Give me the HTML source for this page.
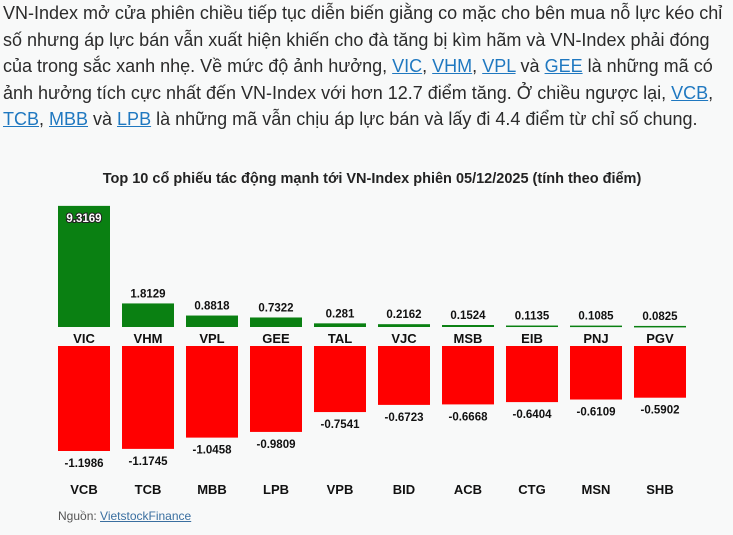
<!DOCTYPE html>
<html><head><meta charset="utf-8">
<style>
body{margin:0;width:733px;height:535px;background:#f8f9f9;overflow:hidden;font-family:"Liberation Sans",Arial,sans-serif;}
#para{position:absolute;left:3px;top:0;font-size:18px;line-height:26.5px;color:#2b2b2b;white-space:nowrap;}
#para a{color:#1f78c0;text-decoration:underline;}
#chart{position:absolute;left:0;top:0;}
#src{position:absolute;left:58px;top:509px;font-size:12px;color:#555;}
#src a{color:#3a6fa0;text-decoration:underline;}
</style></head><body>
<div id="para">VN-Index mở cửa phiên chiều tiếp tục diễn biến giằng co mặc cho bên mua nỗ lực kéo chỉ<br>số nhưng áp lực bán vẫn xuất hiện khiến cho đà tăng bị kìm hãm và VN-Index phải đóng<br>của trong sắc xanh nhẹ. Về mức độ ảnh hưởng, <a>VIC</a>, <a>VHM</a>, <a>VPL</a> và <a>GEE</a> là những mã có<br>ảnh hưởng tích cực nhất đến VN-Index với hơn 12.7 điểm tăng. Ở chiều ngược lại, <a>VCB</a>,<br><a>TCB</a>, <a>MBB</a> và <a>LPB</a> là những mã vẫn chịu áp lực bán và lấy đi 4.4 điểm từ chỉ số chung.</div>
<svg id="chart" width="733" height="535">
<text x="372" y="183" text-anchor="middle" font-size="14.5" font-weight="bold" fill="#222">Top 10 cổ phiếu tác động mạnh tới VN-Index phiên 05/12/2025 (tính theo điểm)</text>
<g id="marks"></g>
</svg>
<div id="src">Nguồn: <a>VietstockFinance</a></div>
<script>
const posTickers=["VIC","VHM","VPL","GEE","TAL","VJC","MSB","EIB","PNJ","PGV"];
const posValues=[9.3169,1.8129,0.8818,0.7322,0.281,0.2162,0.1524,0.1135,0.1085,0.0825];
const negTickers=["VCB","TCB","MBB","LPB","VPB","BID","ACB","CTG","MSN","SHB"];
const negValues=[-1.1986,-1.1745,-1.0458,-0.9809,-0.7541,-0.6723,-0.6668,-0.6404,-0.6109,-0.5902];
const NS="http://www.w3.org/2000/svg";
const g=document.getElementById('marks');
const xC=i=>84+i*64, BW=52;
const yPos=v=>327-v*13.0;
const yNeg=v=>346+(-v)*87.6;
function el(t,a){const e=document.createElementNS(NS,t);for(const k in a)e.setAttribute(k,a[k]);g.appendChild(e);return e;}
posValues.forEach((v,i)=>{
  const r=el('rect',{x:xC(i)-BW/2,y:yPos(v),width:BW,height:Math.max(327-yPos(v),1.5),fill:'#0a8012'});
  
  
  const inside=(327-yPos(v))>40;
  const t=el('text',{x:xC(i),y:inside?yPos(v)+16:yPos(v)-6,'text-anchor':'middle','font-size':11.5,'font-weight':'bold',fill:inside?'#fff':'#111'});
  if(inside){t.setAttribute('stroke','#222');t.setAttribute('stroke-width','2');t.setAttribute('paint-order','stroke');}
  t.textContent=String(v);
  
  
  const n=el('text',{x:xC(i),y:343,'text-anchor':'middle','font-size':13,'font-weight':'bold',fill:'#111'});
  n.textContent=posTickers[i];
  
  
});
negValues.forEach((v,i)=>{
  const r=el('rect',{x:xC(i)-BW/2,y:346,width:BW,height:yNeg(v)-346,fill:'#ff0000'});
  
  
  const t=el('text',{x:xC(i),y:yNeg(v)+16,'text-anchor':'middle','font-size':11.5,'font-weight':'bold',fill:'#111'});
  t.textContent=String(v);
  
  
  const n=el('text',{x:xC(i),y:494,'text-anchor':'middle','font-size':13,'font-weight':'bold',fill:'#111'});
  n.textContent=negTickers[i];
  
  
});
</script>
</body></html>
